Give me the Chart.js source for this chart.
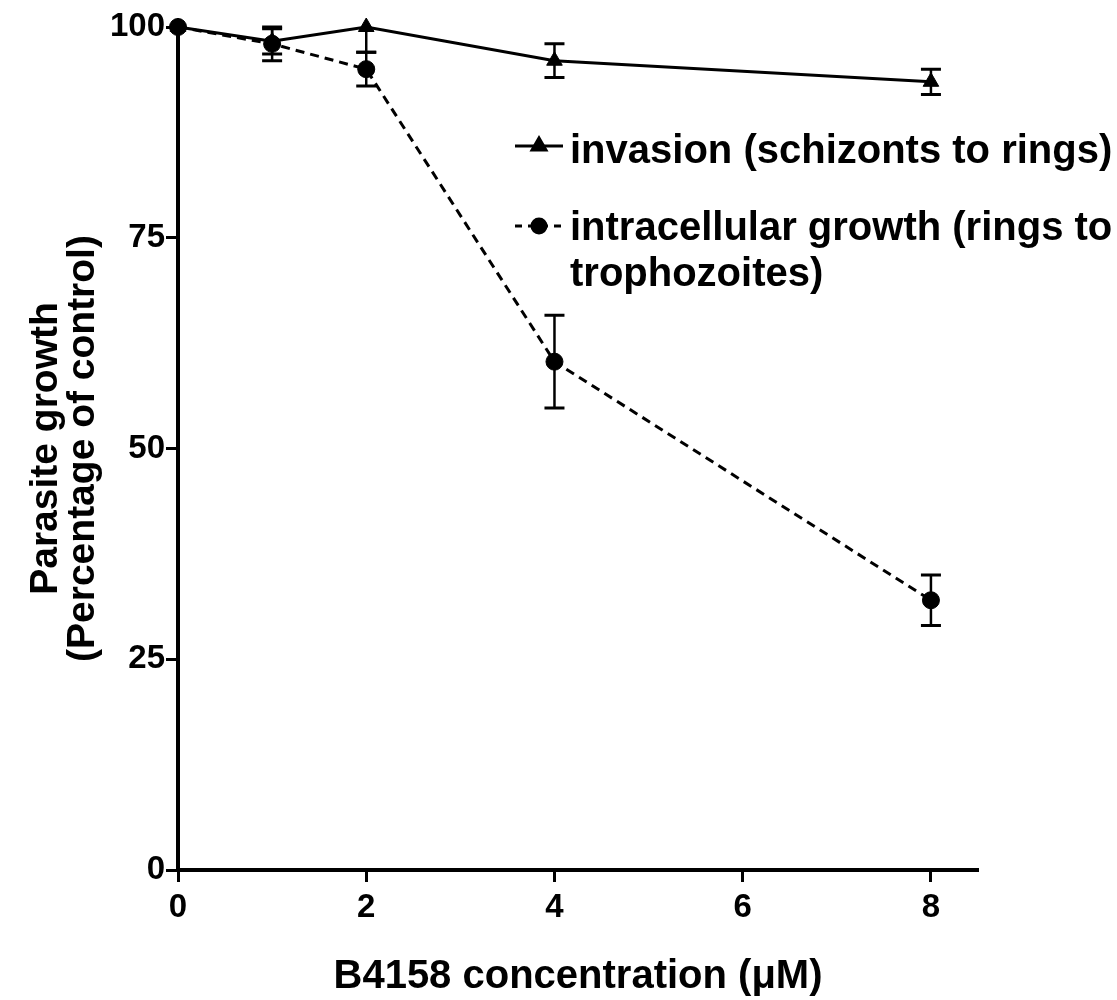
<!DOCTYPE html>
<html>
<head>
<meta charset="utf-8">
<script src="https://cdn.jsdelivr.net/npm/chart.js@4.4.1/dist/chart.umd.min.js"></script>
<style>
  html, body { margin: 0; padding: 0; background: #ffffff; }
  #wrap { width: 1117px; height: 1000px; }
</style>
</head>
<body>
<div id="wrap"><canvas id="c" width="1117" height="1000"></canvas></div>
<script>
// ---- data ----
const concentrations = [0, 1, 2, 4, 8];
const invasion = [100, 98.3, 100, 96, 93.5];
const invasionErr = [0, 1.5, 3, 2, 1.5];
const intracellular = [100, 98, 95, 60.3, 32];
const intracellularErr = [0, 2, 2, 5.5, 3];
const xTicks = [0, 2, 4, 6, 8];
const yTicks = [0, 25, 50, 75, 100];
const seriesLabels = ['invasion (schizonts to rings)', ['intracellular growth (rings to', 'trophozoites)']];
const xTitle = 'B4158 concentration (\u03BCM)';
const yTitle = ['Parasite growth', '(Percentage of control)'];

// pick a condensed font for the tick numbers if one is installed
function pickNarrow() {
  const c = document.createElement('canvas').getContext('2d');
  c.font = 'bold 40px "Liberation Sans"';
  const base = c.measureText('100 100').width;
  for (const f of ['Liberation Sans Narrow', 'Arial Narrow']) {
    c.font = 'bold 40px "' + f + '", "Liberation Sans"';
    const w = c.measureText('100 100').width;
    if (base - w > 2) return f;
  }
  return null;
}
const narrow = pickNarrow();
const tickFont = narrow ? { family: '"' + narrow + '"', size: 37, weight: 'bold' }
                        : { family: '"Liberation Sans", Arial, sans-serif', size: 33, weight: 'bold' };
const mainFamily = '"Liberation Sans", Arial, Helvetica, sans-serif';

const errors = [invasionErr, intracellularErr];

const errorBarPlugin = {
  id: 'errorBars',
  beforeDatasetsDraw(chart) {
    const ctx = chart.ctx;
    const ys = chart.scales.y;
    const area = chart.chartArea;
    ctx.save();
    ctx.beginPath();
    ctx.rect(area.left - 30, area.top - 3, area.right - area.left + 60, area.bottom - area.top + 6);
    ctx.clip();
    ctx.strokeStyle = '#000';
    chart.data.datasets.forEach((ds, di) => {
      const meta = chart.getDatasetMeta(di);
      meta.data.forEach((pt, i) => {
        const e = errors[di][i];
        if (!e) return;
        const v = ds.data[i].y;
        const yTop = ys.getPixelForValue(v + e);
        const yBot = ys.getPixelForValue(v - e);
        const x = pt.x;
        ctx.lineWidth = 2.5;
        ctx.beginPath();
        ctx.moveTo(x, yTop); ctx.lineTo(x, yBot);
        ctx.stroke();
        ctx.lineWidth = 3;
        ctx.beginPath();
        ctx.moveTo(x - 10, yTop); ctx.lineTo(x + 10, yTop);
        ctx.moveTo(x - 10, yBot); ctx.lineTo(x + 10, yBot);
        ctx.stroke();
      });
    });
    ctx.restore();
  }
};

const legendPlugin = {
  id: 'insideLegend',
  afterDraw(chart) {
    const ctx = chart.ctx;
    ctx.save();
    ctx.fillStyle = '#000';
    ctx.strokeStyle = '#000';
    ctx.font = 'bold 40px ' + mainFamily;
    ctx.textBaseline = 'alphabetic';
    ctx.textAlign = 'left';
    // entry 1
    ctx.lineWidth = 3;
    ctx.setLineDash([]);
    ctx.beginPath(); ctx.moveTo(515, 146); ctx.lineTo(563, 146); ctx.stroke();
    Chart.helpers.drawPoint(ctx, { pointStyle: 'triangle', radius: 8, borderWidth: 1, rotation: 0 }, 539, 146);
    ctx.fill();
    ctx.fillText(seriesLabels[0], 570, 163);
    // entry 2
    ctx.setLineDash([7, 6]);
    ctx.beginPath(); ctx.moveTo(515, 226); ctx.lineTo(566, 226); ctx.stroke();
    ctx.setLineDash([]);
    Chart.helpers.drawPoint(ctx, { pointStyle: 'circle', radius: 7, borderWidth: 1, rotation: 0 }, 539, 226);
    ctx.fill();
    ctx.fillText(seriesLabels[1][0], 570, 240);
    ctx.fillText(seriesLabels[1][1], 570, 286);
    ctx.restore();
  }
};

const bgPlugin = {
  id: 'bg',
  beforeDraw(chart) {
    const ctx = chart.ctx;
    ctx.save();
    ctx.fillStyle = '#fff';
    ctx.fillRect(0, 0, chart.width, chart.height);
    ctx.restore();
  }
};

new Chart(document.getElementById('c'), {
  type: 'line',
  data: {
    datasets: [
      {
        label: seriesLabels[0],
        data: concentrations.map((x, i) => ({ x: x, y: invasion[i] })),
        borderColor: '#000',
        backgroundColor: '#000',
        borderWidth: 3,
        pointStyle: 'triangle',
        pointRadius: 9,
        pointBorderWidth: 1,
        tension: 0,
        order: 1
      },
      {
        label: seriesLabels[1].join(' '),
        data: concentrations.map((x, i) => ({ x: x, y: intracellular[i] })),
        borderColor: '#000',
        backgroundColor: '#000',
        borderWidth: 3,
        borderDash: [9, 6],
        pointStyle: 'circle',
        pointRadius: 8.5,
        pointBorderWidth: 1,
        tension: 0,
        order: 0
      }
    ]
  },
  options: {
    responsive: false,
    animation: false,
    clip: false,
    layout: { padding: { left: 0, top: 27, right: 139, bottom: 0 } },
    plugins: {
      legend: { display: false },
      tooltip: { enabled: false }
    },
    scales: {
      x: {
        type: 'linear',
        min: 0,
        max: 8.5,
        afterBuildTicks(scale) { scale.ticks = xTicks.map(v => ({ value: v })); },
        ticks: { color: '#000', font: tickFont, padding: 6, maxRotation: 0 },
        grid: { drawOnChartArea: false, drawTicks: true, tickLength: 12, tickWidth: 3, tickColor: '#000', color: '#000' },
        border: { display: true, color: '#000', width: 4 },
        title: {
          display: true,
          text: xTitle,
          color: '#000',
          font: { family: mainFamily, size: 40, weight: 'bold', lineHeight: 1 },
          padding: { top: 0, bottom: 3 }
        },
        afterFit(scale) { scale.height = 130; }
      },
      y: {
        type: 'linear',
        min: 0,
        max: 100,
        afterBuildTicks(scale) { scale.ticks = yTicks.map(v => ({ value: v })); },
        ticks: { color: '#000', font: tickFont, padding: 1 },
        grid: { drawOnChartArea: false, drawTicks: true, tickLength: 12, tickWidth: 3, tickColor: '#000', color: '#000' },
        border: { display: true, color: '#000', width: 4 },
        title: {
          display: true,
          text: yTitle,
          color: '#000',
          font: { family: mainFamily, size: 39, weight: 'bold', lineHeight: 0.95 },
          padding: { top: 28, bottom: 0 }
        },
        afterFit(scale) { scale.width = 178; }
      }
    }
  },
  plugins: [bgPlugin, errorBarPlugin, legendPlugin]
});
</script>
</body>
</html>
